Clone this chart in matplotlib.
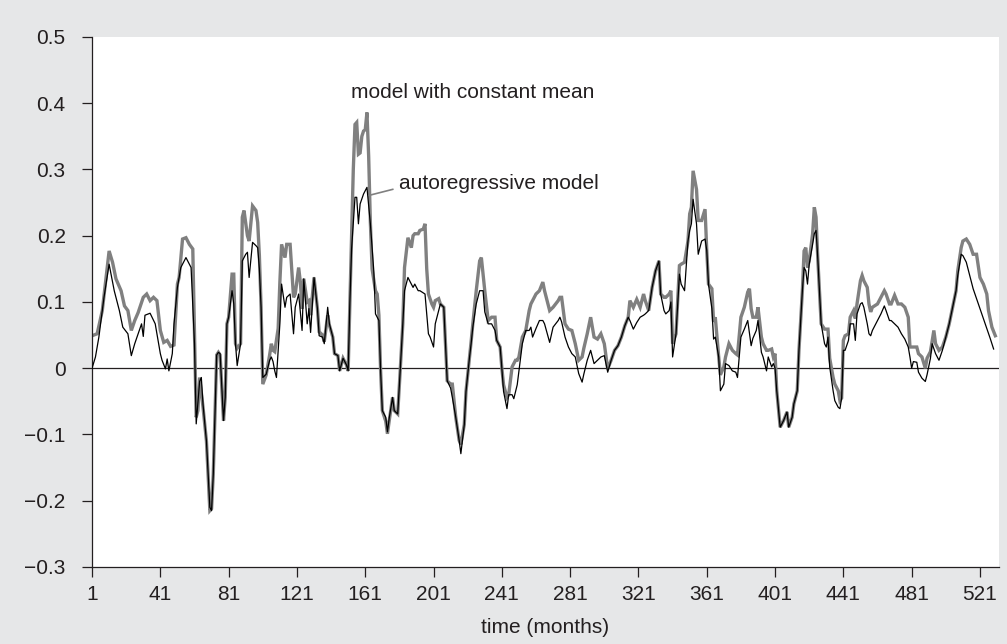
import matplotlib.pyplot as plt
import numpy as np

plt.rcParams['font.family'] = ['Liberation Sans', 'DejaVu Sans']

# model with constant mean (thick grey line)
const_months = [1, 4, 7, 11, 13, 15, 18, 20, 22, 24, 26, 28, 31, 33, 35, 37, 39, 41, 43, 45,
                47, 49, 51, 52, 54, 56, 58, 60, 61, 62, 63, 64, 66, 68, 70, 71, 72, 74, 75, 76,
                78, 79, 80, 81, 83, 84, 85, 86, 88, 89, 90, 92, 93, 95, 97, 98, 99, 100, 101, 103,
                105, 106, 107, 108, 110, 111, 112, 114, 115, 117, 119, 120, 122, 123, 124, 125, 127, 128, 129, 131,
                133, 134, 136, 137, 139, 140, 142, 143, 145, 146, 148, 150, 151, 152, 153, 154, 155, 156, 157, 158,
                159, 160, 161, 162, 163, 164, 165, 167, 168, 169, 170, 171, 173, 174, 175, 177, 178, 180, 181, 183,
                184, 186, 188, 189, 190, 192, 193, 195, 196, 197, 198, 200, 201, 202, 204, 205, 207, 208, 209, 211,
                212, 214, 216, 217, 219, 220, 222, 223, 224, 226, 228, 229, 231, 233, 235, 237, 238, 240, 241, 242,
                244, 245, 247, 249, 250, 251, 253, 255, 257, 258, 259, 261, 263, 265, 266, 268, 269, 271, 274, 275,
                276, 278, 280, 282, 284, 286, 288, 289, 291, 293, 295, 297, 299, 301, 303, 305, 307, 309, 311, 313,
                315, 316, 318, 320, 322, 324, 325, 327, 329, 331, 333, 334, 336, 337, 339, 340, 341, 343, 345, 346,
                348, 350, 351, 352, 353, 355, 356, 358, 360, 361, 362, 364, 365, 366, 368, 369, 371, 372, 374, 376,
                378, 379, 381, 383, 385, 386, 387, 388, 390, 391, 393, 394, 396, 397, 399, 400, 401, 402, 404, 406,
                408, 409, 411, 412, 414, 415, 417, 418, 419, 420, 421, 423, 424, 425, 426, 427, 428, 430, 431, 432,
                433, 435, 436, 438, 439, 440, 441, 442, 444, 445, 447, 448, 449, 451, 452, 453, 455, 456, 457, 458,
                461, 463, 465, 466, 468, 469, 471, 473, 475, 477, 479, 480, 482, 484, 485, 487, 489, 490, 492, 494,
                495, 497, 499, 501, 503, 505, 507, 508, 510, 511, 513, 515, 517, 519, 521, 523, 525, 526, 528, 530]
const_values = [0.049, 0.052, 0.087, 0.177, 0.16, 0.135, 0.117, 0.094, 0.087, 0.057, 0.072, 0.084, 0.107, 0.112, 0.102, 0.107, 0.102, 0.057, 0.039, 0.042,
                0.033, 0.035, 0.127, 0.137, 0.195, 0.197, 0.187, 0.18, 0.057, -0.074, -0.064, -0.014, -0.059, -0.11, -0.215, -0.212, -0.16, 0.02, 0.024, 0.02,
                -0.079, -0.044, 0.067, 0.077, 0.142, 0.142, 0.037, 0.03, 0.037, 0.228, 0.238, 0.2, 0.192, 0.245, 0.238, 0.22, 0.17, 0.092, -0.024, -0.01,
                0.02, 0.037, 0.027, 0.025, 0.06, 0.13, 0.187, 0.167, 0.187, 0.187, 0.107, 0.112, 0.152, 0.13, 0.09, 0.135, 0.10, 0.102, 0.08, 0.137,
                0.09, 0.055, 0.05, 0.04, 0.08, 0.065, 0.047, 0.022, 0.019, -0.004, 0.015, 0.005, -0.004, 0.1, 0.2, 0.3, 0.368, 0.371, 0.323, 0.325,
                0.35, 0.358, 0.36, 0.386, 0.32, 0.22, 0.15, 0.117, 0.112, 0.08, -0.004, -0.064, -0.08, -0.099, -0.08, -0.044, -0.064, -0.069, -0.025, 0.067,
                0.152, 0.197, 0.182, 0.2, 0.203, 0.203, 0.208, 0.21, 0.218, 0.15, 0.112, 0.097, 0.092, 0.102, 0.105, 0.097, 0.092, 0.037, -0.019, -0.024,
                -0.024, -0.074, -0.109, -0.115, -0.085, -0.035, 0.015, 0.04, 0.067, 0.117, 0.162, 0.167, 0.117, 0.072, 0.077, 0.077, 0.042, 0.032, 0.0, -0.025,
                -0.044, -0.04, 0.002, 0.012, 0.012, 0.017, 0.047, 0.057, 0.087, 0.097, 0.102, 0.112, 0.117, 0.13, 0.117, 0.097, 0.087, 0.092, 0.102, 0.107,
                0.107, 0.067, 0.059, 0.057, 0.037, 0.012, 0.017, 0.03, 0.052, 0.077, 0.047, 0.044, 0.052, 0.037, -0.001, 0.012, 0.027, 0.034, 0.047, 0.064,
                0.077, 0.102, 0.092, 0.104, 0.092, 0.112, 0.102, 0.087, 0.122, 0.147, 0.162, 0.112, 0.107, 0.107, 0.112, 0.117, 0.037, 0.052, 0.155, 0.157,
                0.16, 0.192, 0.233, 0.243, 0.298, 0.27, 0.223, 0.223, 0.24, 0.178, 0.127, 0.12, 0.07, 0.077, 0.017, -0.01, 0.002, 0.017, 0.037, 0.027,
                0.022, 0.02, 0.077, 0.092, 0.115, 0.12, 0.09, 0.077, 0.077, 0.092, 0.047, 0.037, 0.027, 0.027, 0.029, 0.017, 0.022, -0.034, -0.089, -0.079,
                -0.066, -0.089, -0.074, -0.054, -0.034, 0.027, 0.117, 0.177, 0.182, 0.152, 0.162, 0.203, 0.243, 0.228, 0.167, 0.117, 0.067, 0.059, 0.059, 0.059,
                0.015, -0.014, -0.024, -0.034, -0.049, -0.045, 0.042, 0.049, 0.052, 0.077, 0.087, 0.075, 0.097, 0.132, 0.14, 0.132, 0.122, 0.097, 0.085, 0.092,
                0.097, 0.107, 0.117, 0.112, 0.097, 0.097, 0.11, 0.097, 0.097, 0.092, 0.077, 0.032, 0.032, 0.032, 0.022, 0.017, 0.0, 0.015, 0.025, 0.057,
                0.037, 0.027, 0.032, 0.047, 0.067, 0.092, 0.117, 0.147, 0.182, 0.192, 0.195, 0.187, 0.172, 0.172, 0.137, 0.127, 0.112, 0.087, 0.062, 0.049]

# autoregressive model (thin black line)
ar_months = [1, 3, 5, 8, 11, 14, 17, 19, 22, 24, 26, 28, 30, 31, 32, 35, 38, 41, 42, 44,
             45, 46, 48, 49, 51, 53, 56, 59, 61, 62, 64, 65, 66, 68, 70, 71, 72, 74, 75, 76,
             78, 79, 80, 81, 83, 84, 85, 86, 88, 89, 91, 92, 93, 95, 97, 98, 99, 100, 101, 103,
             105, 106, 107, 108, 109, 111, 112, 114, 115, 117, 119, 120, 122, 124, 125, 127, 128, 129, 131, 133,
             134, 136, 137, 139, 140, 142, 143, 145, 146, 148, 150, 151, 152, 153, 155, 156, 157, 158, 160, 162,
             164, 166, 167, 168, 169, 170, 171, 173, 174, 175, 177, 178, 180, 181, 183, 184, 186, 188, 189, 190,
             192, 193, 196, 198, 199, 201, 202, 204, 205, 207, 208, 209, 211, 212, 214, 216, 217, 219, 220, 222,
             223, 224, 226, 228, 230, 231, 233, 235, 237, 238, 240, 241, 242, 244, 245, 247, 248, 250, 251, 253,
             255, 257, 258, 259, 261, 263, 265, 266, 269, 271, 274, 275, 276, 278, 280, 282, 284, 286, 288, 289,
             291, 293, 295, 297, 299, 301, 303, 305, 307, 309, 311, 313, 315, 316, 318, 320, 322, 324, 325, 327,
             329, 331, 333, 334, 336, 337, 339, 340, 341, 343, 345, 346, 348, 350, 351, 352, 353, 355, 356, 358,
             360, 361, 362, 364, 365, 366, 368, 369, 371, 372, 374, 376, 378, 379, 381, 383, 385, 387, 388, 390,
             391, 393, 394, 396, 397, 399, 400, 401, 402, 404, 406, 408, 409, 411, 412, 414, 415, 417, 418, 419,
             420, 421, 423, 424, 425, 426, 427, 428, 430, 431, 432, 433, 435, 436, 438, 439, 440, 441, 442, 444,
             445, 447, 448, 449, 451, 452, 453, 455, 456, 457, 458, 461, 463, 465, 466, 468, 469, 471, 473, 475,
             477, 479, 480, 481, 482, 484, 485, 487, 489, 490, 492, 493, 495, 497, 499, 501, 503, 505, 507, 508,
             510, 511, 513, 515, 517, 519, 521, 523, 525, 527, 529]
ar_values = [0.0, 0.017, 0.047, 0.107, 0.157, 0.117, 0.087, 0.062, 0.052, 0.019, 0.037, 0.052, 0.067, 0.048, 0.08, 0.083, 0.067, 0.022, 0.012, -0.001,
             0.014, -0.004, 0.022, 0.067, 0.122, 0.152, 0.167, 0.152, 0.037, -0.084, -0.02, -0.014, -0.055, -0.11, -0.21, -0.215, -0.16, 0.02, 0.024, 0.022,
             -0.079, -0.044, 0.067, 0.077, 0.117, 0.097, 0.037, 0.004, 0.037, 0.162, 0.172, 0.175, 0.137, 0.19, 0.185, 0.182, 0.15, 0.092, -0.014, -0.009,
             0.012, 0.017, 0.01, -0.004, -0.014, 0.067, 0.127, 0.092, 0.107, 0.112, 0.052, 0.092, 0.112, 0.057, 0.135, 0.067, 0.09, 0.054, 0.137, 0.09,
             0.049, 0.047, 0.037, 0.092, 0.067, 0.047, 0.022, 0.019, -0.004, 0.015, 0.005, -0.004, 0.1, 0.18, 0.258, 0.258, 0.218, 0.248, 0.263, 0.273,
             0.218, 0.147, 0.082, 0.077, 0.072, -0.004, -0.064, -0.074, -0.096, -0.076, -0.044, -0.064, -0.069, -0.025, 0.067, 0.117, 0.137, 0.127, 0.122, 0.127,
             0.117, 0.117, 0.112, 0.052, 0.047, 0.032, 0.067, 0.087, 0.097, 0.092, 0.037, -0.019, -0.03, -0.044, -0.074, -0.109, -0.129, -0.085, -0.035, 0.015,
             0.037, 0.062, 0.097, 0.117, 0.117, 0.085, 0.067, 0.067, 0.057, 0.042, 0.032, 0.0, -0.035, -0.061, -0.04, -0.04, -0.046, -0.025, -0.004, 0.037,
             0.057, 0.057, 0.062, 0.047, 0.06, 0.072, 0.072, 0.067, 0.039, 0.062, 0.072, 0.077, 0.07, 0.047, 0.032, 0.022, 0.017, -0.008, -0.021, -0.009,
             0.012, 0.027, 0.007, 0.012, 0.017, 0.019, -0.006, 0.012, 0.027, 0.034, 0.047, 0.064, 0.077, 0.072, 0.059, 0.069, 0.077, 0.08, 0.082, 0.087,
             0.122, 0.147, 0.162, 0.112, 0.087, 0.082, 0.087, 0.1, 0.017, 0.052, 0.142, 0.127, 0.117, 0.192, 0.208, 0.218, 0.255, 0.218, 0.172, 0.192,
             0.195, 0.178, 0.127, 0.09, 0.044, 0.047, 0.017, -0.034, -0.024, 0.007, 0.004, -0.004, -0.006, -0.014, 0.047, 0.059, 0.072, 0.034, 0.045, 0.057,
             0.072, 0.024, 0.017, -0.004, 0.017, 0.002, 0.007, 0.0, -0.034, -0.089, -0.079, -0.066, -0.089, -0.074, -0.054, -0.034, 0.027, 0.117, 0.152, 0.147,
             0.127, 0.157, 0.187, 0.203, 0.208, 0.167, 0.117, 0.067, 0.037, 0.032, 0.047, 0.002, -0.034, -0.049, -0.059, -0.061, -0.045, 0.027, 0.027, 0.042,
             0.067, 0.067, 0.042, 0.082, 0.097, 0.099, 0.092, 0.067, 0.052, 0.049, 0.057, 0.072, 0.082, 0.094, 0.087, 0.072, 0.072, 0.067, 0.062, 0.052,
             0.044, 0.032, 0.017, 0.0, 0.01, 0.009, -0.006, -0.015, -0.02, -0.01, 0.015, 0.037, 0.022, 0.012, 0.027, 0.047, 0.067, 0.092, 0.117, 0.14,
             0.172, 0.17, 0.16, 0.14, 0.12, 0.105, 0.09, 0.075, 0.06, 0.045, 0.029]

x_ticks = list(range(1, 522, 40))
y_ticks = [-0.3, -0.2, -0.1, 0, 0.1, 0.2, 0.3, 0.4, 0.5]
y_labels = ['\u22120.3', '\u22120.2', '\u22120.1', '0', '0.1', '0.2', '0.3', '0.4', '0.5']

bg = '#e6e7e8'
ink = '#231f20'
fs = 15

fig = plt.figure(figsize=(10.07, 6.44), dpi=100, facecolor=bg)
ax = fig.add_axes([0.0914, 0.1196, 0.9004, 0.823])
ax.set_facecolor('white')

ax.plot(const_months, const_values, color='#808080', lw=2.4, solid_joinstyle='miter', zorder=2)
ax.plot(ar_months, ar_values, color='black', lw=0.9, zorder=3)
ax.axhline(0, color=ink, lw=0.9, zorder=1)

ax.set_xlim(1, 532)
ax.set_ylim(-0.3, 0.5)
ax.set_xticks(x_ticks)
ax.set_yticks(y_ticks)
ax.set_yticklabels(y_labels)
ax.tick_params(axis='both', colors=ink, labelsize=fs, length=7, width=0.9, direction='out')
ax.tick_params(axis='x', pad=6)
ax.tick_params(axis='y', pad=12)

for side in ['top', 'right']:
    ax.spines[side].set_visible(False)
for side in ['left', 'bottom']:
    ax.spines[side].set_color(ink)
    ax.spines[side].set_linewidth(0.9)

ax.set_xlabel('time (months)', fontsize=fs, color=ink, labelpad=10)

ax.text(152.7, 0.416, 'model with constant mean', fontsize=fs, color=ink, va='center', ha='left')
ax.text(180.8, 0.279, 'autoregressive model', fontsize=fs, color=ink, va='center', ha='left')
ax.plot([163.4, 177.1], [0.261, 0.270], color='#808080', lw=1.2, zorder=4)

fig.savefig('out.png', dpi=100, facecolor=bg)
